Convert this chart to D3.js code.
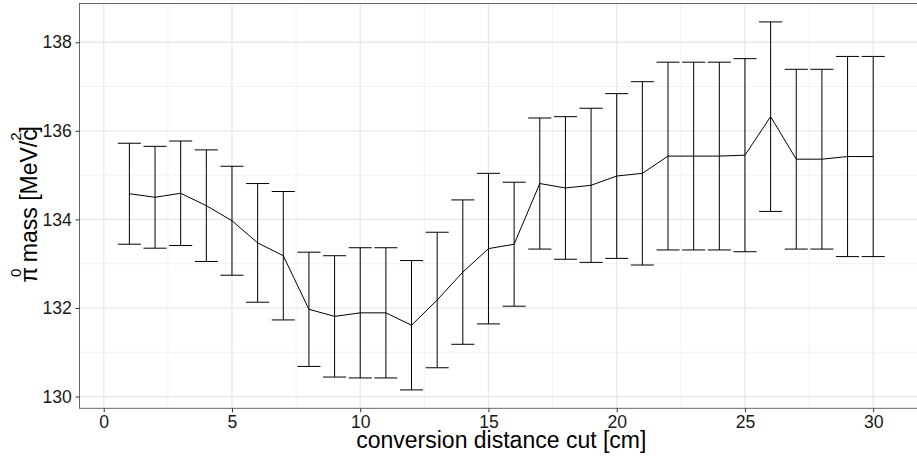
<!DOCTYPE html>
<html>
<head>
<meta charset="utf-8">
<script src="https://cdn.jsdelivr.net/npm/d3@7"></script>
<style>
  html, body { margin: 0; padding: 0; background: #fff; }
  svg { display: block; }
  text { font-family: "Liberation Sans", Arial, Helvetica, sans-serif; }
</style>
</head>
<body>
<svg id="chart" width="917" height="458"></svg>
<script>
// Conversion distance cut [cm]
const cuts = d3.range(1, 31);
// Fitted pi0 mass [MeV/c^2]
const massValues = [
  134.58, 134.50, 134.59, 134.31, 133.97, 133.47, 133.18, 131.97, 131.81, 131.89,
  131.89, 131.61, 132.18, 132.81, 133.34, 133.44, 134.81, 134.71, 134.77, 134.98,
  135.04, 135.43, 135.43, 135.43, 135.45, 136.32, 135.36, 135.36, 135.42, 135.42
];
// Uncertainty on the fitted mass [MeV/c^2]
const massErrors = [
  1.14, 1.15, 1.18, 1.26, 1.23, 1.34, 1.45, 1.29, 1.37, 1.47,
  1.47, 1.46, 1.53, 1.63, 1.70, 1.40, 1.48, 1.61, 1.74, 1.86,
  2.07, 2.12, 2.12, 2.12, 2.18, 2.14, 2.03, 2.03, 2.26, 2.26
];
const xTicks = [0, 5, 10, 15, 20, 25, 30];
const xMinorTicks = [2.5, 7.5, 12.5, 17.5, 22.5, 27.5];
const yTicks = [130, 132, 134, 136, 138];
const yMinorTicks = [131, 133, 135, 137];

const rows = cuts.map((c, i) => ({
  x: c, y: massValues[i], lo: massValues[i] - massErrors[i], hi: massValues[i] + massErrors[i]
}));

const capHalf = 0.45;
const panel = { left: 79.5, top: 3.5, right: 923.1, bottom: 408.3 };

function expand(lo, hi, f) { const d = (hi - lo) * f; return [lo - d, hi + d]; }

const x = d3.scaleLinear()
  .domain(expand(d3.min(rows, d => d.x) - capHalf, d3.max(rows, d => d.x) + capHalf, 0.05))
  .range([panel.left, panel.right]);
const y = d3.scaleLinear()
  .domain(expand(d3.min(rows, d => d.lo), d3.max(rows, d => d.hi), 0.05))
  .range([panel.bottom, panel.top]);

const svg = d3.select("#chart");
const W = panel.right - panel.left, H = panel.bottom - panel.top;

// panel background and grid
const grid = svg.append("g");
grid.append("rect").attr("x", panel.left).attr("y", panel.top)
  .attr("width", W).attr("height", H).attr("fill", "#fff");
grid.selectAll(".xminor").data(xMinorTicks).join("line")
  .attr("x1", d => x(d)).attr("x2", d => x(d))
  .attr("y1", panel.top).attr("y2", panel.bottom)
  .attr("stroke", "#f2f2f2").attr("stroke-width", 1);
grid.selectAll(".yminor").data(yMinorTicks).join("line")
  .attr("y1", d => y(d)).attr("y2", d => y(d))
  .attr("x1", panel.left).attr("x2", panel.right)
  .attr("stroke", "#f2f2f2").attr("stroke-width", 1);
grid.selectAll(".xmajor").data(xTicks).join("line")
  .attr("x1", d => x(d)).attr("x2", d => x(d))
  .attr("y1", panel.top).attr("y2", panel.bottom)
  .attr("stroke", "#e8e8e8").attr("stroke-width", 1.3);
grid.selectAll(".ymajor").data(yTicks).join("line")
  .attr("y1", d => y(d)).attr("y2", d => y(d))
  .attr("x1", panel.left).attr("x2", panel.right)
  .attr("stroke", "#e8e8e8").attr("stroke-width", 1.3);

// error bars
const bars = svg.append("g").attr("stroke", "#000").attr("stroke-width", 1).attr("fill", "none");
bars.selectAll(".stem").data(rows).join("line")
  .attr("x1", d => x(d.x)).attr("x2", d => x(d.x))
  .attr("y1", d => y(d.lo)).attr("y2", d => y(d.hi));
bars.selectAll(".capTop").data(rows).join("line")
  .attr("x1", d => x(d.x - capHalf)).attr("x2", d => x(d.x + capHalf))
  .attr("y1", d => y(d.hi)).attr("y2", d => y(d.hi));
bars.selectAll(".capBot").data(rows).join("line")
  .attr("x1", d => x(d.x - capHalf)).attr("x2", d => x(d.x + capHalf))
  .attr("y1", d => y(d.lo)).attr("y2", d => y(d.lo));

// mass trend line
svg.append("path").datum(rows)
  .attr("fill", "none").attr("stroke", "#000").attr("stroke-width", 1)
  .attr("d", d3.line().x(d => x(d.x)).y(d => y(d.y)));

// panel border
svg.append("rect").attr("x", panel.left).attr("y", panel.top)
  .attr("width", W).attr("height", H)
  .attr("fill", "none").attr("stroke", "#666").attr("stroke-width", 1);

// axes
const xAxis = svg.append("g").attr("transform", `translate(0,${panel.bottom})`)
  .call(d3.axisBottom(x).tickValues(xTicks).tickSize(4).tickPadding(3.4).tickFormat(d3.format("d")));
const yAxis = svg.append("g").attr("transform", `translate(${panel.left},0)`)
  .call(d3.axisLeft(y).tickValues(yTicks).tickSize(4).tickPadding(3.6).tickFormat(d3.format("d")));
[xAxis, yAxis].forEach(g => {
  g.select(".domain").remove();
  g.selectAll(".tick line").attr("stroke", "#333");
  g.selectAll(".tick text").attr("fill", "#1a1a1a").style("font-size", "17.6px")
    .style("font-family", '"Liberation Sans", Arial, sans-serif');
});

// axis titles
svg.append("text")
  .attr("x", (panel.left + panel.right) / 2).attr("y", 448)
  .attr("text-anchor", "middle").attr("fill", "#000").style("font-size", "23px")
  .text("conversion distance cut [cm]");

const yl = svg.append("text")
  .attr("transform", `translate(37.3,${(panel.top + panel.bottom) / 2 - 1.5}) rotate(-90)`)
  .attr("text-anchor", "middle").attr("fill", "#000").style("font-size", "23px");
yl.append("tspan").text("π");
yl.append("tspan").attr("dy", -16.6).attr("dx", -10).style("font-size", "15px").text("0");
yl.append("tspan").attr("dy", 16.6).text(" mass [MeV/c");
yl.append("tspan").attr("dy", -16.6).attr("dx", -11.5).style("font-size", "15px").text("2");
yl.append("tspan").attr("dy", 16.6).text("]");
</script>
</body>
</html>
